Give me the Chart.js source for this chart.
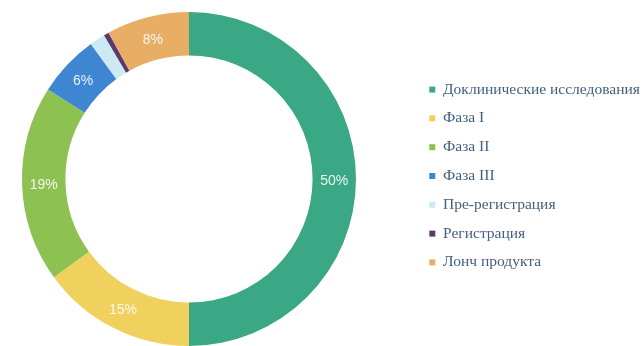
<!DOCTYPE html>
<html>
<head>
<meta charset="utf-8">
<script src="https://cdn.jsdelivr.net/npm/chart.js@4.4.0/dist/chart.umd.min.js"></script>
<style>
  html, body { margin: 0; padding: 0; background: #fff; overflow: hidden; }
  #wrap { width: 642px; height: 346px; overflow: hidden; }
  #pipeline { display: block; margin-left: -38px; }
</style>
</head>
<body>
<div id="wrap"><canvas id="pipeline" width="680" height="346"></canvas></div>
<script>
// stages of the pipeline and their shares, %
const stages = [
  'Доклинические исследования',
  'Фаза I',
  'Фаза II',
  'Фаза III',
  'Пре-регистрация',
  'Регистрация',
  'Лонч продукта'
];
const shares = [50, 15, 19, 6, 1.5, 0.5, 8];
const shareLabels = ['50%', '15%', '19%', '6%', '', '', '8%'];
const stageColors = ['#3aa884', '#f1d15e', '#8dc152', '#3f86d2', '#cdeaf4', '#5b3b6e', '#e9ae66'];

// white percent text in the middle of each slice
const sliceText = {
  id: 'sliceText',
  afterDatasetsDraw(chart) {
    const ctx = chart.ctx;
    const arcs = chart.getDatasetMeta(0).data;
    ctx.save();
    ctx.fillStyle = 'rgba(255,255,255,0.88)';
    ctx.font = '14px "Liberation Sans", Arial, sans-serif';
    ctx.textAlign = 'center';
    ctx.textBaseline = 'middle';
    arcs.forEach((arc, i) => {
      if (!shareLabels[i]) return;
      const p = arc.tooltipPosition();
      ctx.fillText(shareLabels[i], p.x, p.y + 2);
    });
    ctx.restore();
  }
};

// legend column sits a little above the ring's centre
const liftLegend = {
  id: 'liftLegend',
  afterLayout(chart) {
    chart.legend.top -= 4;
    chart.legend.bottom -= 4;
  }
};

new Chart(document.getElementById('pipeline'), {
  type: 'doughnut',
  data: {
    labels: stages,
    datasets: [{
      data: shares,
      backgroundColor: stageColors,
      borderWidth: 0
    }]
  },
  options: {
    responsive: false,
    animation: false,
    cutout: '74%',
    layout: { padding: { top: 12, bottom: -2 } },
    plugins: {
      tooltip: { enabled: false },
      legend: {
        position: 'right',
        maxWidth: 226,
        labels: {
          boxWidth: 6,
          boxHeight: 6,
          padding: 13.3,
          color: '#44607f',
          font: { family: '"Liberation Serif", "Times New Roman", serif', size: 15.5 }
        }
      }
    }
  },
  plugins: [sliceText, liftLegend]
});
</script>
</body>
</html>
